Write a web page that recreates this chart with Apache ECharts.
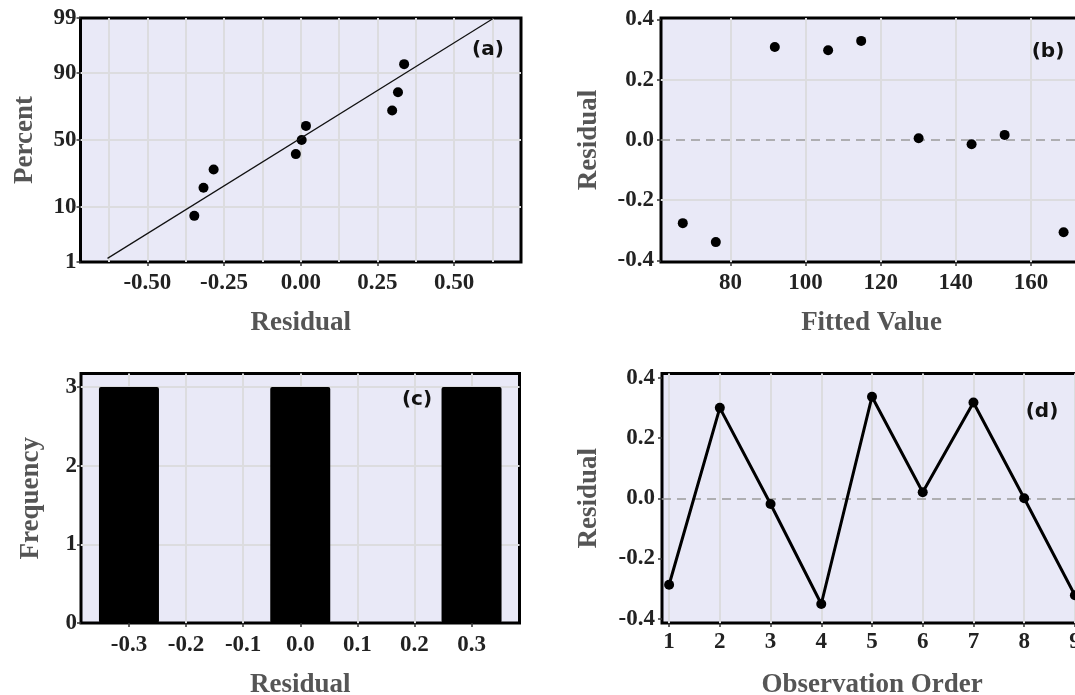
<!DOCTYPE html>
<html><head><meta charset="utf-8">
<script src="https://cdn.jsdelivr.net/npm/echarts@6/dist/echarts.min.js"></script>
<style>html,body{margin:0;padding:0;background:#fff}#c{width:1075px;height:695px}</style>
</head><body><div id="c"></div>
<script>
// ---------- (a) normal probability plot ----------
const probResiduals = [-0.347, -0.317, -0.284, -0.016, 0.003, 0.017, 0.298, 0.317, 0.337];
const probPercents = [7.4, 18.1, 28.7, 39.4, 50, 60.6, 71.3, 81.9, 92.6];
const fitLineResiduals = [-0.63, 0.63];
const fitLinePercents = [1.2, 99];
const probPercentTicks = [1, 10, 50, 90, 99];
const probPercentGrid = [10, 50, 90];
const probResidualTicks = [-0.5, -0.25, 0, 0.25, 0.5];
const probResidualGrid = [-0.625, -0.5, -0.375, -0.25, -0.125, 0, 0.125, 0.25, 0.375, 0.5, 0.625];
// ---------- (b) residual vs fitted ----------
const fittedValues = [67.3, 76.1, 91.8, 106.0, 114.8, 130.1, 144.2, 153.0, 168.7];
const fittedResiduals = [-0.276, -0.339, 0.309, 0.298, 0.329, 0.006, -0.014, 0.017, -0.306];
const fittedTicks = [80, 100, 120, 140, 160];
const residualTicks = [-0.4, -0.2, 0, 0.2, 0.4];
const residualGrid = [-0.2, 0.2];
// ---------- (c) histogram ----------
const histBins = [-0.3, 0.0, 0.3];
const histFreq = [3, 3, 3];
const histResidualTicks = [-0.3, -0.2, -0.1, 0, 0.1, 0.2, 0.3];
const histFreqTicks = [0, 1, 2, 3];
const histFreqGrid = [1, 2, 3];
// ---------- (d) residual vs order ----------
const obsOrder = [1, 2, 3, 4, 5, 6, 7, 8, 9];
const obsResiduals = [-0.287, 0.30, -0.019, -0.351, 0.337, 0.02, 0.318, 0.0, -0.322];
const panelLabels = ['(a)', '(b)', '(c)', '(d)'];

// inverse standard normal CDF (probability-scale transform)
function normInv(p) {
  const a = [-3.969683028665376e+01, 2.209460984245205e+02, -2.759285104469687e+02, 1.383577518672690e+02, -3.066479806614716e+01, 2.506628277459239e+00];
  const b = [-5.447609879822406e+01, 1.615858368580409e+02, -1.556989798598866e+02, 6.680131188771972e+01, -1.328068155288572e+01];
  const c = [-7.784894002430293e-03, -3.223964580411365e-01, -2.400758277161838e+00, -2.549671664319171e+00, 4.374664141464968e+00, 2.938163982698783e+00];
  const d = [7.784695709041462e-03, 3.224671290700398e-01, 2.445134137142996e+00, 3.754408661907416e+00];
  const pl = 0.02425, ph = 1 - pl;
  let q, r;
  if (p < pl) { q = Math.sqrt(-2 * Math.log(p)); return (((((c[0]*q+c[1])*q+c[2])*q+c[3])*q+c[4])*q+c[5]) / ((((d[0]*q+d[1])*q+d[2])*q+d[3])*q+1); }
  if (p <= ph) { q = p - 0.5; r = q*q; return (((((a[0]*r+a[1])*r+a[2])*r+a[3])*r+a[4])*r+a[5])*q / (((((b[0]*r+b[1])*r+b[2])*r+b[3])*r+b[4])*r+1); }
  q = Math.sqrt(-2 * Math.log(1 - p)); return -(((((c[0]*q+c[1])*q+c[2])*q+c[3])*q+c[4])*q+c[5]) / ((((d[0]*q+d[1])*q+d[2])*q+d[3])*q+1);
}
const z = pct => normInv(pct / 100);
const zTicks = probPercentTicks.map(z);
const zMin = zTicks[0], zMax = zTicks[zTicks.length - 1];

const SERIF = '"Liberation Serif","Times New Roman",serif';
const BG = '#e9e9f7', GRIDC = '#dcdcdf';

function visAxis(gi, min, max, vals, fmt, margin, name, gap) {
  return {
    gridIndex: gi, type: 'value', min, max,
    axisLine: { show: false, onZero: false },
    axisTick: { show: true, customValues: vals, length: 4, lineStyle: { color: '#333', width: 1.5 } },
    axisLabel: { show: true, customValues: vals, formatter: fmt, margin, fontFamily: SERIF, fontWeight: 'bold', fontSize: 23, color: '#222' },
    splitLine: { show: false },
    name, nameLocation: 'middle', nameGap: gap,
    nameTextStyle: { fontFamily: SERIF, fontWeight: 'bold', fontSize: 27, color: '#555' }
  };
}
function gridAxis(dim, gi, min, max, vals) {
  return {
    gridIndex: gi, type: 'value', min, max, position: dim === 'x' ? 'bottom' : 'left',
    axisLine: { show: false, onZero: false },
    axisTick: { show: false, customValues: vals },
    axisLabel: { show: false, customValues: vals },
    splitLine: { show: true, lineStyle: { color: GRIDC, width: 2 } }
  };
}
const f1 = v => v.toFixed(1), f2 = v => v.toFixed(2), f0 = v => String(Math.round(v));
const pctFmt = v => {
  let bi = 0;
  zTicks.forEach((t, i) => { if (Math.abs(t - v) < Math.abs(zTicks[bi] - v)) bi = i; });
  return String(probPercentTicks[bi]);
};

const A = { xmin: -0.718, xmax: 0.718 };
const B = { xmin: 61.5, xmax: 173.6, ymin: -0.405, ymax: 0.405 };
const C = { xmin: -0.384, xmax: 0.384, ymin: 0, ymax: 3.17 };
const D = { xmin: 0.86, xmax: 9.14, ymin: -0.414, ymax: 0.414 };

const gridBase = { show: true, backgroundColor: BG, borderColor: '#000', borderWidth: 3,
  containLabel: false, outerBoundsMode: 'none' };
const zeroLine = { silent: true, symbol: 'none', z: 1, label: { show: false },
  lineStyle: { color: '#9a9a9a', type: [9, 6], width: 1.5 }, data: [{ yAxis: 0 }] };

const option = {
  animation: false,
  backgroundColor: '#fff',
  grid: [
    Object.assign({ left: 80.5, top: 18, width: 440.5, height: 244 }, gridBase),
    Object.assign({ left: 661, top: 18, width: 421, height: 244 }, gridBase),
    Object.assign({ left: 81, top: 373.5, width: 438.5, height: 249.5 }, gridBase),
    Object.assign({ left: 662, top: 373.5, width: 420, height: 249.5 }, gridBase)
  ],
  xAxis: [
    visAxis(0, A.xmin, A.xmax, probResidualTicks, f2, 10, 'Residual', 48),
    gridAxis('x', 0, A.xmin, A.xmax, probResidualGrid),
    visAxis(1, B.xmin, B.xmax, fittedTicks, f0, 10, 'Fitted Value', 48),
    gridAxis('x', 1, B.xmin, B.xmax, fittedTicks),
    visAxis(2, C.xmin, C.xmax, histResidualTicks, f1, 11, 'Residual', 49),
    gridAxis('x', 2, C.xmin, C.xmax, histResidualTicks),
    visAxis(3, D.xmin, D.xmax, obsOrder, f0, 8, 'Observation Order', 49),
    gridAxis('x', 3, D.xmin, D.xmax, obsOrder)
  ],
  yAxis: [
    visAxis(0, zMin, zMax, zTicks, pctFmt, 4, 'Percent', 42),
    gridAxis('y', 0, zMin, zMax, probPercentGrid.map(z)),
    visAxis(1, B.ymin, B.ymax, residualTicks, f1, 7, 'Residual', 58),
    gridAxis('y', 1, B.ymin, B.ymax, residualGrid),
    visAxis(2, C.ymin, C.ymax, histFreqTicks, f0, 4, 'Frequency', 36),
    gridAxis('y', 2, C.ymin, C.ymax, histFreqGrid),
    visAxis(3, D.ymin, D.ymax, residualTicks, f1, 7, 'Residual', 59)
  ],
  series: [
    { type: 'line', xAxisIndex: 0, yAxisIndex: 0, showSymbol: false, symbol: 'none', silent: true,
      lineStyle: { color: '#111', width: 1.2 },
      data: fitLineResiduals.map((r, i) => [r, z(fitLinePercents[i])]) },
    { type: 'scatter', xAxisIndex: 0, yAxisIndex: 0, symbolSize: 10, itemStyle: { color: '#000', opacity: 1 },
      data: probResiduals.map((r, i) => [r, z(probPercents[i])]) },
    { type: 'scatter', xAxisIndex: 2, yAxisIndex: 2, symbolSize: 10, itemStyle: { color: '#000', opacity: 1 },
      markLine: zeroLine,
      data: fittedValues.map((f, i) => [f, fittedResiduals[i]]) },
    { type: 'bar', xAxisIndex: 4, yAxisIndex: 4, barWidth: 60, itemStyle: { color: '#000', borderRadius: 2 },
      data: histBins.map((b, i) => [b, histFreq[i]]) },
    { type: 'line', xAxisIndex: 6, yAxisIndex: 6, symbol: 'circle', symbolSize: 10,
      lineStyle: { color: '#000', width: 3 }, itemStyle: { color: '#000', opacity: 1 },
      markLine: zeroLine,
      data: obsOrder.map((o, i) => [o, obsResiduals[i]]) }
  ],
  graphic: [
    [488, 50], [1048, 52], [417, 400], [1042, 412]
  ].map((p, i) => ({
    type: 'text', x: p[0], y: p[1], z: 100,
    style: { text: panelLabels[i], fontFamily: '"DejaVu Sans",sans-serif', fontWeight: 'bold', fontSize: 20,
             fill: '#111', align: 'center', verticalAlign: 'middle' }
  }))
};
const chart = echarts.init(document.getElementById('c'), null, { renderer: 'canvas' });
chart.setOption(option);
</script>
</body></html>
